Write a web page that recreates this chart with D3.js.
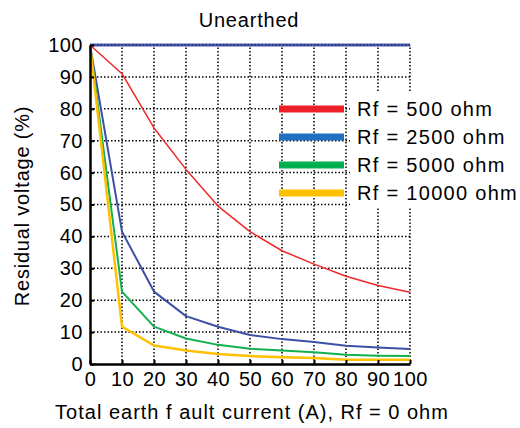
<!doctype html>
<html>
<head>
<meta charset="UTF-8">
<title>Unearthed</title>
<style>
  body { margin: 0; background: #fff; }
  text { font-family: "Liberation Sans", Arial, sans-serif; fill: #000; }
</style>
</head>
<body>
<div id="chart"></div>
<script src="https://cdn.jsdelivr.net/npm/d3@7"></script>
<script>
// data
var current = [0, 10, 20, 30, 40, 50, 60, 70, 80, 90, 100];
var rf0 = [100, 100, 100, 100, 100, 100, 100, 100, 100, 100, 100];
var rf500 = [100, 91, 74, 61, 49.5, 41.5, 35.5, 31.3, 27.5, 24.6, 22.5];
var rf2500 = [100, 41.5, 22.7, 15, 11.7, 9.1, 7.8, 6.9, 5.7, 5.2, 4.7];
var rf5000 = [100, 22.7, 11.7, 8, 6, 4.8, 4.2, 3.7, 2.9, 2.6, 2.5];
var rf10000 = [100, 11.7, 5.8, 4.2, 3.1, 2.5, 2.1, 1.9, 1.3, 1.3, 1.3];
var xTicks = [0, 10, 20, 30, 40, 50, 60, 70, 80, 90, 100];
var yTicks = [0, 10, 20, 30, 40, 50, 60, 70, 80, 90, 100];
var legendLabels = ["Rf = 500 ohm", "Rf = 2500 ohm", "Rf = 5000 ohm", "Rf = 10000 ohm"];

var series = [
  {values: rf500, color: "#f02828", legend: "#ee2027", width: 1.5},
  {values: rf2500, color: "#3c50a8", legend: "#2070c0", width: 2},
  {values: rf5000, color: "#12b04e", legend: "#00b050", width: 2},
  {values: rf10000, color: "#ffc000", legend: "#ffc000", width: 2.5}
];

var W = 520, H = 428;
var svg = d3.select("#chart").append("svg")
  .attr("width", W).attr("height", H);

var x = d3.scaleLinear().domain([0, 100]).range([90, 410]);
var y = d3.scaleLinear().domain([0, 100]).range([364, 45]);

// dotted grid
var grid = svg.append("g")
  .attr("stroke", "#000")
  .attr("stroke-width", 1.5)
  .attr("stroke-dasharray", "1.5,2");
grid.selectAll("line.v").data(xTicks.slice(1)).enter().append("line")
  .attr("x1", d => x(d)).attr("x2", d => x(d))
  .attr("y1", y(0)).attr("y2", y(100));
grid.selectAll("line.h").data(yTicks.slice(1, -1)).enter().append("line")
  .attr("x1", x(0)).attr("x2", x(100))
  .attr("y1", d => y(d)).attr("y2", d => y(d));

// flat line at 100
var line = d3.line().x((d, i) => x(current[i])).y(d => y(d));
svg.append("path").datum(rf0)
  .attr("d", line).attr("fill", "none")
  .attr("stroke", "#4a5cae").attr("stroke-width", 3);
svg.append("path").datum(rf0)
  .attr("d", line).attr("fill", "none")
  .attr("stroke", "#1c2a6c").attr("stroke-width", 1.5)
  .attr("stroke-dasharray", "1.5,2");

series.forEach(function(s) {
  svg.append("path").datum(s.values)
    .attr("d", line).attr("fill", "none")
    .attr("stroke", s.color).attr("stroke-width", s.width)
    .attr("stroke-linejoin", "round");
});

// axes
var xAxis = svg.append("g").attr("transform", "translate(0," + y(0) + ")")
  .call(d3.axisBottom(x).tickValues(xTicks).tickSizeInner(-4).tickSizeOuter(0).tickPadding(8));
var yAxis = svg.append("g").attr("transform", "translate(" + x(0) + ",0)")
  .call(d3.axisLeft(y).tickValues(yTicks).tickSizeInner(-4).tickSizeOuter(0).tickPadding(7));
[xAxis, yAxis].forEach(function(a) {
  a.select(".domain").attr("stroke", "#000").attr("stroke-width", 2.5);
  a.selectAll(".tick line").attr("stroke", "#000").attr("stroke-width", 2);
  a.selectAll(".tick text")
    .style("font-family", "'Liberation Sans', Arial, sans-serif")
    .style("font-size", "20px").style("letter-spacing", "0.5px").attr("fill", "#000");
});

// legend box and entries
svg.append("rect").attr("x", 350).attr("y", 93).attr("width", 170).attr("height", 114)
  .attr("fill", "#fff");
var leg = svg.append("g");
series.forEach(function(s, i) {
  var ly = 109 + i * 28;
  leg.append("line").attr("x1", 279).attr("x2", 344).attr("y1", ly).attr("y2", ly)
    .attr("stroke", s.legend).attr("stroke-width", 7);
  leg.append("text").attr("x", 357).attr("y", ly + 7)
    .style("font-size", "20px").style("letter-spacing", "1.3px")
    .text(legendLabels[i]);
});

// titles
svg.append("text").attr("x", 249).attr("y", 27).attr("text-anchor", "middle")
  .style("font-size", "20px").style("letter-spacing", "0.8px").text("Unearthed");
svg.append("text").attr("x", 252).attr("y", 419).attr("text-anchor", "middle")
  .style("font-size", "20px").style("letter-spacing", "1px")
  .text("Total earth f ault current (A), Rf = 0 ohm");
svg.append("text").attr("transform", "translate(29,206) rotate(-90)")
  .attr("text-anchor", "middle")
  .style("font-size", "20px").style("letter-spacing", "0.8px")
  .text("Residual voltage (%)");
</script>
</body>
</html>
